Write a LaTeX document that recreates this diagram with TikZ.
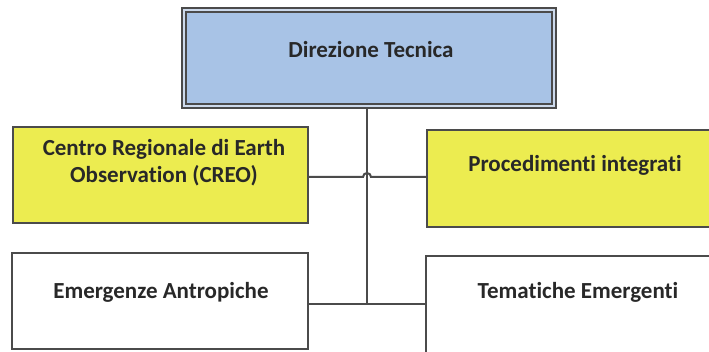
\documentclass[tikz,border=0pt]{standalone}
\usepackage{fontspec}
\setmainfont{Carlito}[Ligatures={NoCommon}]
\definecolor{linegray}{RGB}{75,75,75}
\definecolor{textgray}{RGB}{40,40,40}
\definecolor{boxblue}{RGB}{168,195,230}
\definecolor{gapblue}{RGB}{205,218,236}
\definecolor{boxyellow}{RGB}{236,236,80}
\begin{document}
\begin{tikzpicture}[x=1pt,y=1pt,
  box/.style={draw=linegray, line width=1.5pt, rectangle, inner sep=0pt},
  lbl/.style={font=\fontsize{23}{27}\selectfont\bfseries, text=textgray, align=center},
  link/.style={draw=linegray, line width=2pt}]
\useasboundingbox (0,0) rectangle (709,351);
\fill[white] (0,0) rectangle (709,351);
\clip (0,0) rectangle (709,351);

% head office, double frame
\node[box, fill=gapblue, minimum width=374pt, minimum height=100pt] (dir) at (369,293) {};
\node[box, line width=1.2pt, fill=boxblue, minimum width=366pt, minimum height=92pt] (dirin) at (dir) {};
\node[lbl] (dirtxt) at (371,301) {Direzione Tecnica};

% second level (yellow)
\node[box, fill=boxyellow, minimum width=295pt, minimum height=96pt] (creo) at (160.5,176) {};
\node[lbl] (creotxt) at (164,188) {Centro Regionale di Earth\\Observation (CREO)};
\node[box, fill=boxyellow, minimum width=296pt, minimum height=97pt] (proc) at (575,172.5) {};
\node[lbl] (proctxt) at (575,186) {Procedimenti integrati};

% third level (white)
\node[box, fill=white, minimum width=296pt, minimum height=96pt] (emer) at (160,50) {};
\node[lbl] (emertxt) at (161,59) {Emergenze Antropiche};
\node[box, fill=white, minimum width=296pt, minimum height=97pt] (tema) at (574,46.5) {};
\node[lbl] (tematxt) at (578,59) {Tematiche Emergenti};

% connectors
\coordinate (jn) at (367,47);
\coordinate (hop) at (367,174);
\draw[link] (dir.south -| jn) -- (jn);
\draw[link] (emer.east |- jn) -- (tema.west |- jn);
\draw[link] (creo.east |- hop) -- ([xshift=-4pt]hop)
  arc[start angle=180, end angle=0, radius=4pt] -- (proc.west |- hop);
\end{tikzpicture}
\end{document}
